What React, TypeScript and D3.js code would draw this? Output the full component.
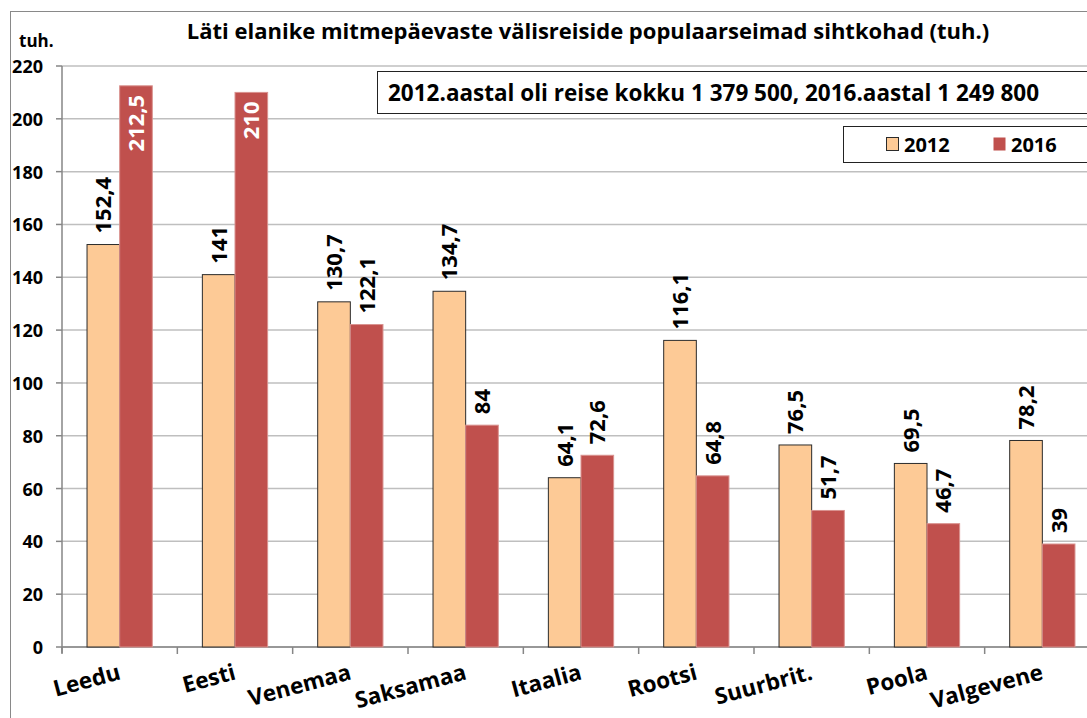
import { useMemo } from 'react';
import * as d3 from 'd3';

const categories = ['Leedu', 'Eesti', 'Venemaa', 'Saksamaa', 'Itaalia', 'Rootsi', 'Suurbrit.', 'Poola', 'Valgevene'];
const values2012 = [152.4, 141, 130.7, 134.7, 64.1, 116.1, 76.5, 69.5, 78.2];
const values2016 = [212.5, 210, 122.1, 84, 72.6, 64.8, 51.7, 46.7, 39];
const seriesNames = ['2012', '2016'];
const yTicks = [0, 20, 40, 60, 80, 100, 120, 140, 160, 180, 200, 220];

const W = 1087;
const H = 718;
const FONT = '"Open Sans", Lato, sans-serif';
const C2012 = '#FDCA96';
const C2016 = '#C0504D';

const fmt = (v: number) => String(v).replace('.', ',');

export default function App() {
  const plot = { left: 62, right: 1100, top: 66, bottom: 647 };

  const x = useMemo(
    () =>
      d3
        .scaleBand<string>()
        .domain(categories)
        .range([plot.left, plot.right])
        .paddingInner(0.434)
        .paddingOuter(0.217),
    []
  );
  const step = x.step();
  const y = useMemo(() => d3.scaleLinear().domain([0, 220]).range([plot.bottom, plot.top]), []);
  const bw = x.bandwidth() / 2;

  return (
    <div style={{ position: 'absolute', left: 0, top: 0, width: W, height: H, background: '#fff' }}>
      <svg width={W} height={H} style={{ display: 'block', fontFamily: FONT }}>
        <rect x={10.5} y={11.5} width={W} height={H} fill="#fff" stroke="#898989" strokeWidth={1} />

        {/* gridlines */}
        {yTicks.map((t) => (
          <line key={'g' + t} x1={plot.left} x2={W} y1={y(t)} y2={y(t)} stroke="#BFBFBF" strokeWidth={1.5} />
        ))}

        {/* y axis */}
        <line x1={plot.left} x2={plot.left} y1={plot.top} y2={plot.bottom + 6} stroke="#868686" strokeWidth={1.5} />
        {yTicks.map((t) => (
          <g key={'t' + t}>
            <line x1={plot.left - 6} x2={plot.left} y1={y(t)} y2={y(t)} stroke="#868686" strokeWidth={1.5} />
            <text x={43} y={y(t) + 7} textAnchor="end" fontSize={18} fontWeight="bold" fill="#000">
              {t}
            </text>
          </g>
        ))}
        <text x={19} y={47} fontSize={17} fontWeight="bold">
          tuh.
        </text>

        {/* x axis */}
        <line x1={plot.left} x2={W} y1={plot.bottom} y2={plot.bottom} stroke="#868686" strokeWidth={1.5} />
        {categories.map((c, i) => (
          <line
            key={'xt' + c}
            x1={plot.left + step * i}
            x2={plot.left + step * i}
            y1={plot.bottom}
            y2={plot.bottom + 7}
            stroke="#868686"
            strokeWidth={1.5}
          />
        ))}

        {/* bars */}
        {categories.map((c, i) => {
          const x0 = x(c)!;
          const v1 = values2012[i];
          const v2 = values2016[i];
          const inside2 = y(v2) < 200;
          return (
            <g key={c}>
              <rect x={x0} y={y(v1)} width={bw} height={y(0) - y(v1)} fill={C2012} stroke="#2b2b2b" strokeWidth={1} />
              <rect x={x0 + bw} y={y(v2)} width={bw} height={y(0) - y(v2)} fill={C2016} stroke="#D9928F" strokeWidth={1} />
              <text
                transform={`translate(${x0 + bw / 2 + 8},${y(v1) - 11}) rotate(-90)`}
                fontSize={22}
                fontWeight="bold"
                fill="#000"
              >
                {fmt(v1)}
              </text>
              {inside2 ? (
                <text
                  transform={`translate(${x0 + bw * 1.5 + 8},${y(v2) + 9}) rotate(-90)`}
                  textAnchor="end"
                  fontSize={22}
                  fontWeight="bold"
                  fill="#fff"
                >
                  {fmt(v2)}
                </text>
              ) : (
                <text
                  transform={`translate(${x0 + bw * 1.5 + 8},${y(v2) - 11}) rotate(-90)`}
                  fontSize={22}
                  fontWeight="bold"
                  fill="#000"
                >
                  {fmt(v2)}
                </text>
              )}
              <text
                transform={`translate(${x0 + bw + 2},${plot.bottom + 32}) rotate(-15)`}
                textAnchor="end"
                fontSize={22.5}
                fontWeight="bold"
                fill="#000"
              >
                {c}
              </text>
            </g>
          );
        })}

        {/* title */}
        <text x={588} y={39} textAnchor="middle" fontSize={22} fontWeight="bold">
          Läti elanike mitmepäevaste välisreiside populaarseimad sihtkohad (tuh.)
        </text>

        {/* annotation */}
        <rect x={377.5} y={71.5} width={760} height={42} fill="#fff" stroke="#222" strokeWidth={1} />
        <text x={388} y={101} fontSize={22.5} fontWeight="bold">
          2012.aastal oli reise kokku 1 379 500, 2016.aastal 1 249 800
        </text>

        {/* legend */}
        <rect x={843.5} y={126.5} width={300} height={36} fill="#fff" stroke="#222" strokeWidth={1} />
        {seriesNames.map((s, i) => (
          <g key={s} transform={`translate(${886 + i * 107},137)`}>
            <rect x={0.5} y={0.5} width={12} height={13} fill={i === 0 ? C2012 : C2016} stroke={i === 0 ? '#2b2b2b' : 'none'} />
            <text x={18} y={15} fontSize={20} fontWeight="bold">
              {s}
            </text>
          </g>
        ))}
      </svg>
    </div>
  );
}
